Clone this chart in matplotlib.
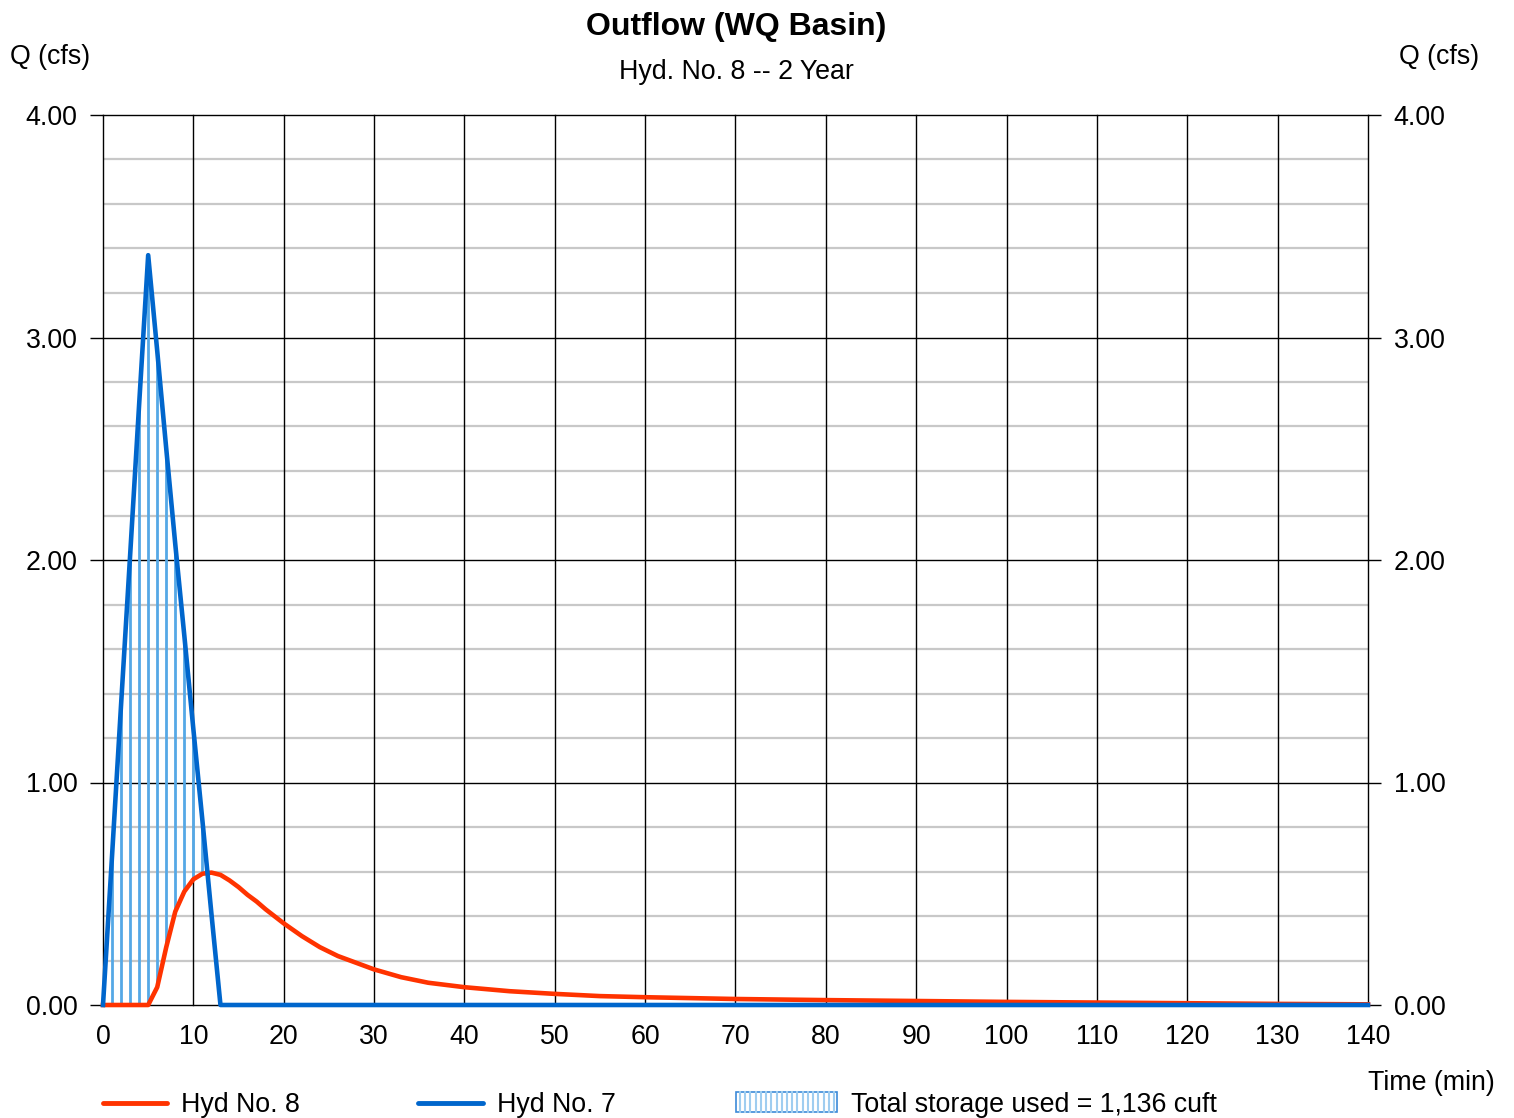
import numpy as np
import matplotlib
matplotlib.use("Agg")
import matplotlib.pyplot as plt
from matplotlib.lines import Line2D
from matplotlib.patches import Rectangle

plt.rcParams['font.family'] = ['Liberation Sans', 'DejaVu Sans']

title = "Outflow (WQ Basin)"
subtitle = "Hyd. No. 8 -- 2 Year"

# Inflow hydrograph (Hyd No. 7)
t_in = [0, 1, 2, 3, 4, 5, 6, 7, 8, 9, 10, 11, 12, 13, 140]
q_in = [0, 0.67, 1.35, 2.02, 2.70, 3.37, 2.94, 2.50, 2.07, 1.66, 1.24, 0.83, 0.41, 0.0, 0.0]

# Outflow hydrograph (Hyd No. 8)
t_out = [0, 5, 6, 7, 8, 9, 10, 11, 12, 13, 14, 15, 16, 17, 18, 20, 22, 24, 26, 28, 30,
         33, 36, 40, 45, 50, 55, 60, 70, 80, 90, 100, 110, 120, 130, 140]
q_out = [0, 0, 0.08, 0.26, 0.42, 0.51, 0.565, 0.59, 0.595, 0.585, 0.56, 0.53, 0.495, 0.465,
         0.43, 0.367, 0.31, 0.26, 0.22, 0.19, 0.16, 0.125, 0.10, 0.08, 0.062, 0.05, 0.04,
         0.035, 0.027, 0.022, 0.018, 0.014, 0.011, 0.008, 0.005, 0.003]

x_ticks = list(range(0, 141, 10))
y_ticks = [0, 1, 2, 3, 4]
y_labels = ["0.00", "1.00", "2.00", "3.00", "4.00"]
storage_label = "Total storage used = 1,136 cuft"

red = "#ff3300"
blue = "#0066cc"
hatch_c = "#55a8e6"
FS = 19.3

fig = plt.figure(figsize=(15.14, 11.18), dpi=100)
ax = fig.add_axes([103/1514, 1-1005/1118, (1368-103)/1514, (1005-115)/1118])
ax.set_xlim(0, 140)
ax.set_ylim(0, 4)

# grid
for y in np.arange(0.2, 4.0, 0.2):
    if abs(y - round(y)) > 1e-6:
        ax.axhline(y, color="#c8c8c8", lw=1.6, zorder=0)
for y in y_ticks:
    ax.axhline(y, color="black", lw=1.0, zorder=1, clip_on=False)
for x in x_ticks:
    ax.axvline(x, color="black", lw=1.0, zorder=1, clip_on=False)

# storage hatch
tt = np.arange(1, 13)
qi = np.interp(tt, t_in, q_in)
qo = np.interp(tt, t_out, q_out)
for x, lo, hi in zip(tt, qo, qi):
    if hi > lo:
        ax.plot([x, x], [lo, hi], color=hatch_c, lw=2.0, zorder=2, solid_capstyle='butt')

ax.plot(t_in, q_in, color=blue, lw=3.3, zorder=4, solid_joinstyle='round', clip_on=False)
ax.plot(t_out, q_out, color=red, lw=3.3, zorder=3, solid_joinstyle='round', clip_on=False)

for s in ax.spines.values():
    s.set_visible(False)
ax.set_xticks(x_ticks)
ax.set_xticklabels([str(x) for x in x_ticks])
ax.set_yticks(y_ticks)
ax.set_yticklabels(y_labels)
ax.tick_params(axis='x', length=0, pad=14, labelsize=FS)
ax.tick_params(axis='y', length=9.4, width=1, pad=9, labelsize=FS, right=True, labelright=True)

fig.text(736/1514, 1-27/1118, title, ha='center', va='center', fontsize=23, fontweight='bold')
fig.text(736/1514, 1-72/1118, subtitle, ha='center', va='center', fontsize=FS)
fig.text(10/1514, 1-57/1118, "Q (cfs)", ha='left', va='center', fontsize=FS)
fig.text(1479/1514, 1-57/1118, "Q (cfs)", ha='right', va='center', fontsize=FS)
fig.text(1495/1514, 1-1083/1118, "Time (min)", ha='right', va='center', fontsize=FS)

# legend
ly = 1-1103/1118
lty = 1-1105/1118
fig.add_artist(Line2D([103/1514, 167/1514], [ly, ly], color=red, lw=3.5, solid_capstyle='round'))
fig.text(181/1514, lty, "Hyd No. 8", ha='left', va='center', fontsize=FS)
fig.add_artist(Line2D([418/1514, 483/1514], [ly, ly], color=blue, lw=3.5, solid_capstyle='round'))
fig.text(497/1514, lty, "Hyd No. 7", ha='left', va='center', fontsize=FS)
rx0, rx1, ry0, ry1 = 736, 837, 1092, 1112
for px in np.linspace(rx0 + 4, rx1 - 3, 19):
    fig.add_artist(Line2D([px/1514, px/1514], [1-ry1/1118, 1-ry0/1118], color="#9fcdf0", lw=1.5))
fig.add_artist(Rectangle((rx0/1514, 1-ry1/1118), (rx1-rx0)/1514, (ry1-ry0)/1118,
                         transform=fig.transFigure, facecolor='none', edgecolor="#3c8ad8", lw=1.2))
fig.text(851/1514, lty, storage_label, ha='left', va='center', fontsize=FS)

fig.savefig("out.png", dpi=100)
